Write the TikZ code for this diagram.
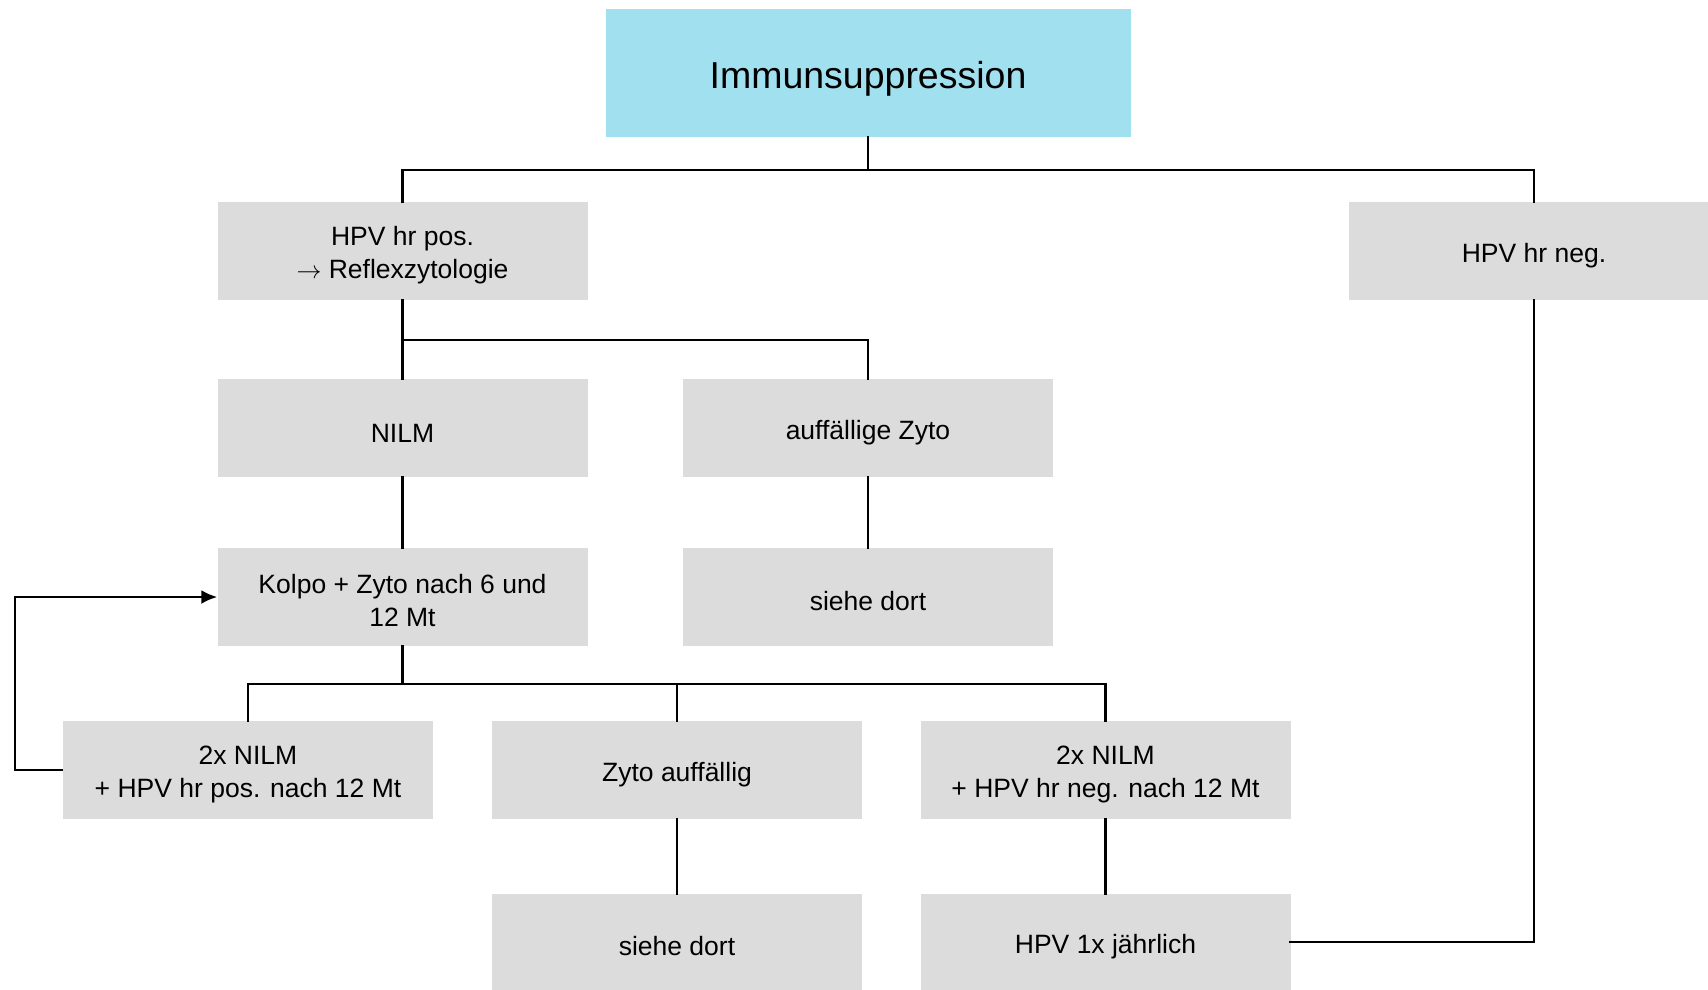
\documentclass[tikz,border=0pt]{standalone}
\usepackage{fontspec}
\setmainfont{Liberation Sans}
\usetikzlibrary{arrows.meta}
\definecolor{boxgray}{HTML}{DCDCDC}
\definecolor{headcyan}{HTML}{A1E0EF}
\tikzset{
  box/.style={fill=boxgray, draw=none, minimum width=370pt, minimum height=98pt,
    inner sep=0pt, align=center, text height=28pt, font=\fontsize{26.5}{33}\selectfont},
  twoline/.style={box, text height=60pt},
  head/.style={fill=headcyan, draw=none, minimum width=525pt, minimum height=128pt,
    inner sep=0pt, text height=38pt, font=\fontsize{37.5}{44}\selectfont},
  link/.style={line width=2.6pt, line cap=rect},
  feed/.style={line width=2.6pt, -{Latex[length=16pt,width=14pt]}}
}
\begin{document}
\begin{tikzpicture}[x=1pt,y=-1pt]
\useasboundingbox (0,0) rectangle (1708,989);
% header
\node[head] (top) at (868,73) {Immunsuppression};
% second row
\node[twoline] (pos) at (402.5,251) {HPV hr pos.\\ $\rightarrow$ Reflexzytologie};
\node[box] (neg) at (1534,251) {HPV hr neg.};
% third row
\node[box] (nilm) at (402.5,428) {NILM};
\node[box] (auff) at (868,428) {auffällige Zyto};
% fourth row
\node[twoline] (kolpo) at (402.5,597) {Kolpo + Zyto nach 6 und\\12 Mt};
\node[box] (dort1) at (868,597) {siehe dort};
% fifth row
\node[twoline] (posb) at (248,770) {2x NILM\\+ HPV hr pos. nach 12 Mt};
\node[box] (zyto) at (677,770) {Zyto auffällig};
\node[twoline] (negb) at (1105.5,770) {2x NILM\\+ HPV hr neg. nach 12 Mt};
% sixth row
\node[box, minimum height=96pt] (dort2) at (677,942) {siehe dort};
\node[box, minimum height=96pt] (yearly) at (1105.5,942) {HPV 1x jährlich};
% tree connectors
\coordinate (b1) at (0,170);
\draw[link] (top.south) -- (top.south |- b1) (pos.north |- b1) -- (neg.north |- b1);
\draw[link] (pos.north |- b1) -- (pos.north);
\draw[link] (neg.north |- b1) -- (neg.north);
\coordinate (b2) at (0,340);
\draw[link] (pos.south) -- (nilm.north);
\draw[link] (pos.south |- b2) -- (auff.north |- b2) -- (auff.north);
\draw[link] (nilm.south) -- (kolpo.north);
\draw[link] (auff.south) -- (dort1.north);
\coordinate (b3) at (0,684);
\draw[link] (kolpo.south) -- (kolpo.south |- b3);
\draw[link] (posb.north |- b3) -- (negb.north |- b3);
\draw[link] (posb.north |- b3) -- (posb.north);
\draw[link] (zyto.north |- b3) -- (zyto.north);
\draw[link] (negb.north |- b3) -- (negb.north);
\draw[link] (zyto.south) -- (dort2.north);
\draw[link] (negb.south) -- (yearly.north);
% side paths
\coordinate (loopx) at (15,0);
\draw[feed] (posb.west) -- (posb.west -| loopx) -- (kolpo.west -| loopx) -- (kolpo.west);
\draw[link] (yearly.east) -- (yearly.east -| neg.south) -- (neg.south);
\end{tikzpicture}
\end{document}
